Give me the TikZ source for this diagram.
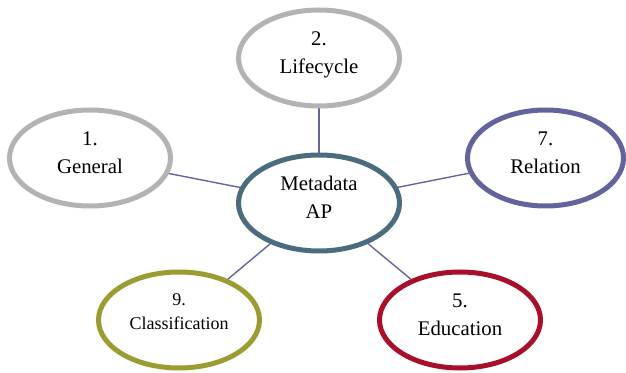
\documentclass[tikz,border=0pt]{standalone}
\usepackage{fontspec}
\setmainfont{Liberation Serif}
\usetikzlibrary{shapes.geometric,backgrounds}
\definecolor{grayc}{HTML}{B3B3B3}
\definecolor{metac}{HTML}{4B6C7F}
\definecolor{relc}{HTML}{63649C}
\definecolor{clsc}{HTML}{9C9C33}
\definecolor{educ}{HTML}{A6102B}
\definecolor{linkc}{HTML}{6464A0}
\tikzset{
  bubble/.style={ellipse, draw, fill=white, line width=5pt, inner sep=0pt,
    minimum width=161pt, minimum height=96pt, align=center,
    text height=43pt, text depth=12pt,
    font=\fontsize{20.8}{28}\selectfont},
  link/.style={draw=linkc, line width=1.4pt}
}
\begin{document}
\begin{tikzpicture}[x=1pt,y=1pt]
\useasboundingbox (0,0) rectangle (626,372);
\node[bubble, draw=metac] (meta) at (319,169) {Metadata\\AP};
\node[bubble, draw=grayc] (life) at (319,314) {2.\\Lifecycle};
\node[bubble, draw=grayc] (gen) at (90,214) {1.\\General};
\node[bubble, draw=relc, minimum width=156pt] (rel) at (545.5,214) {7.\\Relation};
\node[bubble, draw=clsc, font=\fontsize{18}{25}\selectfont,
  text height=38pt, text depth=18pt] (cls) at (179,52) {9.\\Classification};
\node[bubble, draw=educ] (edu) at (460,52) {5.\\Education};
\begin{pgfonlayer}{background}
\draw[link] (meta.center) -- (life.center);
\draw[link] (meta.center) -- (gen.center);
\draw[link] (meta.center) -- (rel.center);
\draw[link] (meta.center) -- (cls.center);
\draw[link] (meta.center) -- (edu.center);
\end{pgfonlayer}
\end{tikzpicture}
\end{document}
